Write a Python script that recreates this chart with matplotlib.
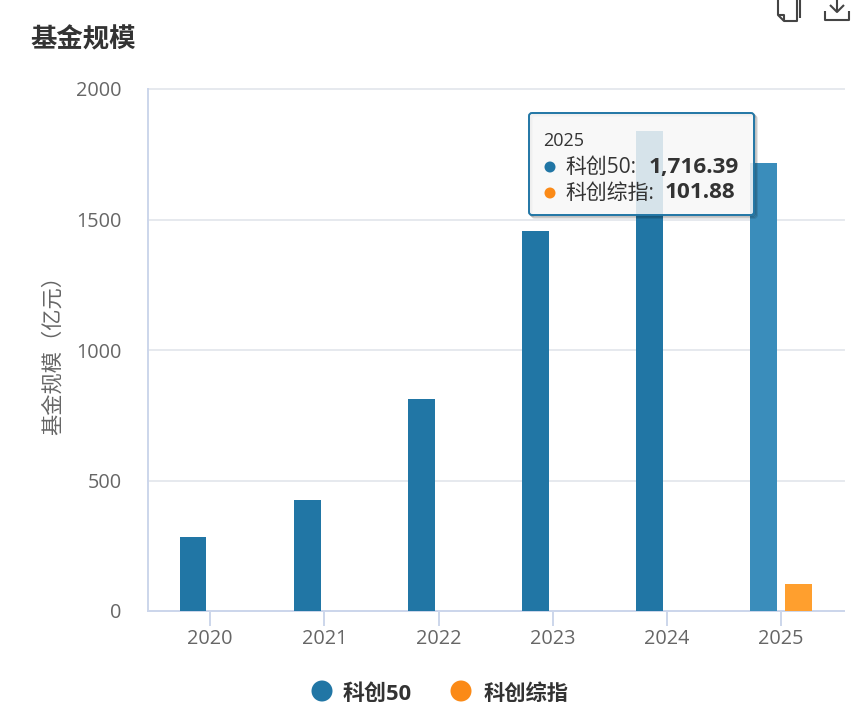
#!/usr/bin/env python3
import numpy as np
import matplotlib
matplotlib.use("Agg")
import matplotlib.pyplot as plt
from matplotlib.patches import FancyBboxPatch, Circle

# Open Sans for digits, CJK glyphs fall through to Noto
plt.rcParams["font.family"] = ["Open Sans", "Noto Sans CJK SC", "DejaVu Sans"]

W, H = 852, 714

years = ["2020", "2021", "2022", "2023", "2024", "2025"]
kc50 = [283, 425, 812, 1456, 1839, 1716.39]
kczz = [None, None, None, None, None, 101.88]
y_ticks = [0, 500, 1000, 1500, 2000]

BLUE = "#2176a5"
BLUE_HI = "#3a8dbb"
ORANGE = "#fb8a17"
ORANGE_HI = "#ff9f2e"
AXIS = "#ccd6eb"
GRID = "#e6e9ee"
MUTED = "#666666"
DARK = "#333333"

fig = plt.figure(figsize=(W / 100, H / 100), dpi=100, facecolor="white")
ax = fig.add_axes([148 / W, 1 - 611 / H, (844 - 148) / W, (611 - 89) / H])

# ---- bars ----
x = np.arange(len(years))
bar_w = 0.236
off = 0.151
colors = [BLUE] * 5 + [BLUE_HI]
ax.bar(x - off, kc50, bar_w, color=colors, zorder=3)
for i, v in enumerate(kczz):
    if v is not None:
        ax.bar(x[i] + off, v, bar_w, color=ORANGE_HI, zorder=3)

# ---- axes ----
ax.set_xlim(-0.545, 5.550)
ax.set_ylim(0, 2000)
ax.set_xticks(x)
ax.set_xticklabels(years)
ax.set_yticks(y_ticks)
ax.tick_params(axis="x", length=10.8, width=1.4, color=AXIS, labelsize=14.3,
               labelcolor=MUTED, pad=2)
ax.tick_params(axis="y", length=0, labelsize=14.3, labelcolor=MUTED, pad=19)
ax.grid(axis="y", color=GRID, lw=1.4, zorder=0, clip_on=False)
ax.set_axisbelow(True)
for side in ["top", "right"]:
    ax.spines[side].set_visible(False)
for side in ["left", "bottom"]:
    ax.spines[side].set_color(AXIS)
    ax.spines[side].set_linewidth(1.4)
ax.set_ylabel("基金规模（亿元）", fontsize=15.3, color=MUTED, labelpad=0)
ax.yaxis.set_label_coords((64 - 148) / (844 - 148), 0.5)

# ---- overlay in pixel coords: title, legend, tooltip, toolbar icons ----
ov = fig.add_axes([0, 0, 1, 1], zorder=10)
ov.set_xlim(0, W)
ov.set_ylim(H, 0)
ov.axis("off")

ov.text(30, 40, "基金规模", fontsize=19, fontweight="bold", color=DARK,
        ha="left", va="center")

ov.add_patch(Circle((322, 691), 10.5, fc=BLUE, ec="none"))
ov.text(343, 694, "科创50", fontsize=15.8, fontweight="bold", color=DARK, ha="left", va="center")
ov.add_patch(Circle((461, 691), 10.5, fc=ORANGE, ec="none"))
ov.text(484, 694, "科创综指", fontsize=15.3, fontweight="bold", color=DARK, ha="left", va="center")

# tooltip
for d, a in [(3, 0.10), (2, 0.12), (1, 0.15)]:
    ov.add_patch(FancyBboxPatch((529 + d, 113 + d), 225, 102, boxstyle="round,pad=0,rounding_size=3",
                                fc="none", ec="black", lw=1.4, alpha=a))
ov.add_patch(FancyBboxPatch((529, 113), 225, 102, boxstyle="round,pad=0,rounding_size=3",
                            fc=(0.97, 0.97, 0.97, 0.85), ec=BLUE, lw=1.4))
ov.text(543, 141, "2025", fontsize=13, color=DARK, ha="left", va="center")
ov.add_patch(Circle((550, 167), 5.5, fc=BLUE, ec="none"))
ov.text(565, 167, "科创50:", fontsize=15, color=DARK, ha="left", va="center")
ov.text(649, 167, "1,716.39", fontsize=16.2, fontweight="bold", color=DARK, ha="left", va="center")
ov.add_patch(Circle((550, 193), 5.5, fc=ORANGE, ec="none"))
ov.text(565, 193, "科创综指:", fontsize=15, color=DARK, ha="left", va="center")
ov.text(665, 193, "101.88", fontsize=16.2, fontweight="bold", color=DARK, ha="left", va="center")

# toolbar icons, cut off by the top edge as in the screenshot
icon = dict(color="#444444", lw=1.5, solid_capstyle="butt")
ov.plot([778, 778, 784, 797, 797], [-2, 15, 21, 21, -2], **icon)
ov.plot([778, 784, 784], [15, 15, 21], **icon)
ov.plot([800, 800], [-2, 18], **icon)
ov.plot([837, 837], [-2, 12], **icon)
ov.plot([830, 837, 844], [5, 12, 5], **icon)
ov.plot([825, 825, 849, 849], [11, 20, 20, 11], **icon)

fig.savefig("out.png", dpi=100)
